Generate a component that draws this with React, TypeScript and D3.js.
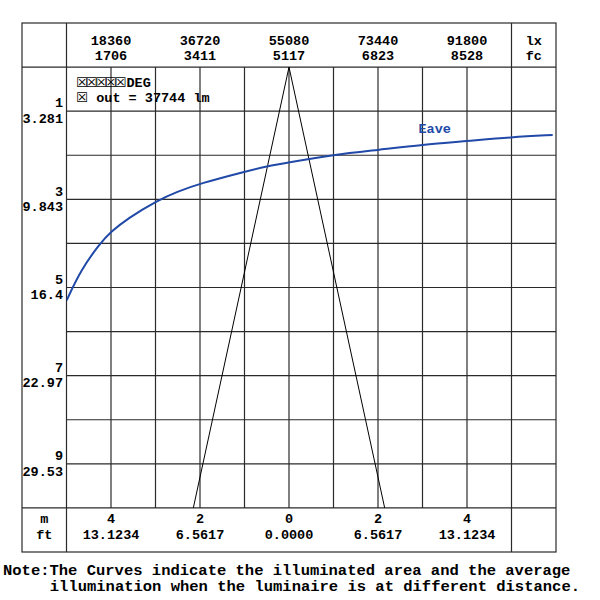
import React from 'react';
import * as d3 from 'd3';

// Header (illuminance) labels
const luxTicks = [18360, 36720, 55080, 73440, 91800];
const fcLabels = ['1706', '3411', '5117', '6823', '8528'];
// Footer (beam width) labels
const meterTicks = [-4, -2, 0, 2, 4];
const meterLabels = ['4', '2', '0', '2', '4'];
const feetLabels = ['13.1234', '6.5617', '0.0000', '6.5617', '13.1234'];
// Left (distance) labels
const distTicks = [1, 3, 5, 7, 9];
const distFeetLabels = ['3.281', '9.843', '16.4', '22.97', '29.53'];
// Eave curve: distance (m) vs average illuminance (lx)
const eaveDistance = [5.29, 4.6, 4.0, 3.74, 3.43, 3.02, 2.83, 2.64, 2.37, 2.25, 2.16, 1.99, 1.88, 1.76, 1.68, 1.59, 1.54];
const eaveLux = [9220, 12150, 16090, 18300, 21800, 28050, 31910, 36720, 46000, 50480, 55140, 64220, 73440, 82660, 91740, 100940, 109480];
// Beam edges: distance (m) vs half width (m)
const beamDistance = [0, 10];
const beamHalfWidth = [0, 2.15];
const legendLines = ['DEG', ' out = 37744 lm'];
const noteLines = [
  'Note:The Curves indicate the illuminated area and the average',
  'illumination when the luminaire is at different distance.',
];

const FONT = '"Liberation Mono", "DejaVu Sans Mono", monospace';
const GRID = '#2a2a2a';
const BLUE = '#2149a8';

export default function App() {
  const left = 22, right = 556, top = 23, bottom = 552;
  const x = d3.scaleLinear().domain([-6, 6]).range([left, right]);
  const lux = d3.scaleLinear().domain([0, 110160]).range([left, right]);
  const y = d3.scaleLinear().domain([-1, 11]).range([top, bottom]);

  const plotL = x(-5), plotR = x(6), plotT = y(0), plotB = y(10);
  const gridX = d3.range(-4, 5);
  const gridY = d3.range(1, 10);

  const eavePts: [number, number][] = eaveDistance.map((d, i) => [lux(eaveLux[i]), y(d)]);
  const eavePath = d3.line().curve(d3.curveBasis)(eavePts) || '';

  const beamL = d3.line()(beamDistance.map((d, i) => [x(-beamHalfWidth[i]), y(d)] as [number, number])) || '';
  const beamR = d3.line()(beamDistance.map((d, i) => [x(beamHalfWidth[i]), y(d)] as [number, number])) || '';

  const fs = 13.5;
  const boxStyle = { fontFamily: '"DejaVu Sans", sans-serif', fontWeight: 'normal' as const, fontSize: 13.5, letterSpacing: -2.5 };
  return (
    <svg width={600} height={600} style={{ position: 'absolute', left: 0, top: 0, background: '#fff' }}>
      <defs>
        <clipPath id="plotClip">
          <rect x={plotL} y={plotT} width={plotR - plotL} height={plotB - plotT} />
        </clipPath>
      </defs>
      <g fill="none" stroke={GRID} strokeWidth={1.2}>
        <rect x={left} y={top} width={right - left} height={bottom - top} />
        <line x1={left} x2={right} y1={plotT} y2={plotT} />
        <line x1={left} x2={right} y1={plotB} y2={plotB} />
        <line x1={plotL} x2={plotL} y1={top} y2={bottom} />
        <line x1={x(5)} x2={x(5)} y1={top} y2={bottom} />
        {gridX.map((m) => (
          <line key={'vx' + m} x1={x(m)} x2={x(m)} y1={plotT} y2={plotB} />
        ))}
        {gridY.map((d) => (
          <line key={'hy' + d} x1={plotL} x2={plotR} y1={y(d)} y2={y(d)} />
        ))}
      </g>
      <g clipPath="url(#plotClip)">
        <path d={beamL} stroke="#000" strokeWidth={1} fill="none" />
        <path d={beamR} stroke="#000" strokeWidth={1} fill="none" />
        <path d={eavePath} stroke={BLUE} strokeWidth={2} fill="none" />
      </g>
      <g fontFamily={FONT} fontWeight="bold" fontSize={fs} fill="#000">
        {luxTicks.map((v, i) => (
          <g key={'lx' + v}>
            <text x={lux(v)} y={44.5} textAnchor="middle">{v}</text>
            <text x={lux(v)} y={60} textAnchor="middle">{fcLabels[i]}</text>
          </g>
        ))}
        <text x={(x(5) + right) / 2} y={44.5} textAnchor="middle">lx</text>
        <text x={(x(5) + right) / 2} y={60} textAnchor="middle">fc</text>
        {meterTicks.map((m, i) => (
          <g key={'m' + i}>
            <text x={x(m)} y={523} textAnchor="middle">{meterLabels[i]}</text>
            <text x={x(m)} y={538.5} textAnchor="middle">{feetLabels[i]}</text>
          </g>
        ))}
        <text x={(left + plotL) / 2} y={523} textAnchor="middle">m</text>
        <text x={(left + plotL) / 2} y={538.5} textAnchor="middle">ft</text>
        {distTicks.map((d, i) => (
          <g key={'d' + d}>
            <text x={63} y={y(d) - 3.7} textAnchor="end">{d}</text>
            <text x={63} y={y(d) + 11.7} textAnchor="end">{distFeetLabels[i]}</text>
          </g>
        ))}
        <text x={76} y={87}>
          <tspan style={boxStyle}>☒☒☒☒☒</tspan>
          <tspan dx={2.5}>{legendLines[0]}</tspan>
        </text>
        <text x={76} y={102} style={{ whiteSpace: 'pre' }}>
          <tspan style={boxStyle}>☒</tspan>
          <tspan dx={2.5}>{legendLines[1]}</tspan>
        </text>
        <text x={418.5} y={133} fill={BLUE}>Eave</text>
      </g>
      <g fontFamily={FONT} fontWeight="bold" fontSize={15.5} fill="#000">
        <text x={3} y={575}>{noteLines[0]}</text>
        <text x={49.8} y={590.5}>{noteLines[1]}</text>
      </g>
    </svg>
  );
}
